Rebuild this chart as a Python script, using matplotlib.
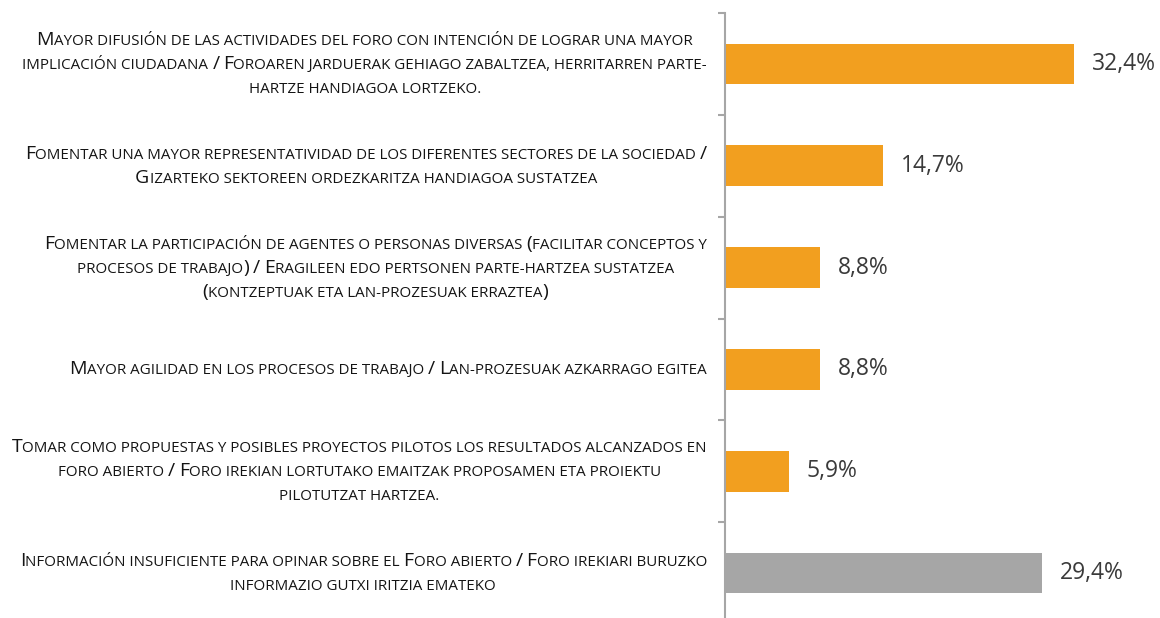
import matplotlib
matplotlib.use('Agg')
import matplotlib.pyplot as plt

W, H = 1160, 618
FONT = 'Open Sans'

# answers, top to bottom (line breaks as in the original)
labels = [
    ['Mayor difusión de las actividades del foro con intención de lograr una mayor',
     'implicación ciudadana / Foroaren jarduerak gehiago zabaltzea, herritarren parte-',
     'hartze handiagoa lortzeko.'],
    ['Fomentar una mayor representatividad de los diferentes sectores de la sociedad /',
     'Gizarteko sektoreen ordezkaritza handiagoa sustatzea'],
    ['Fomentar la participación de agentes o personas diversas (facilitar conceptos y',
     'procesos de trabajo) / Eragileen edo pertsonen parte-hartzea sustatzea',
     '(kontzeptuak eta lan-prozesuak erraztea)'],
    ['Mayor agilidad en los procesos de trabajo / Lan-prozesuak azkarrago egitea'],
    ['Tomar como propuestas y posibles proyectos pilotos los resultados alcanzados en',
     'foro abierto / Foro irekian lortutako emaitzak proposamen eta proiektu',
     'pilotutzat hartzea.'],
    ['Información insuficiente para opinar sobre el Foro abierto / Foro irekiari buruzko',
     'informazio gutxi iritzia emateko'],
]
values = [32.4, 14.7, 8.8, 8.8, 5.9, 29.4]
value_text = ['32,4%', '14,7%', '8,8%', '8,8%', '5,9%', '29,4%']
colors = ['#F29F1F'] * 5 + ['#A6A6A6']

fig = plt.figure(figsize=(W / 100, H / 100), dpi=100)
ax = fig.add_axes([725 / W, -6 / H, 435 / W, 611 / H])

y = list(range(len(values)))
bars = ax.barh(y, values, height=0.4, color=colors)
ax.set_ylim(len(values) - 0.5, -0.5)
ax.set_xlim(0, 435 / 10.77)
ax.bar_label(bars, labels=value_text, padding=13, fontsize=16.5,
             family=FONT, color='#3A3A3A')

for s in ['top', 'right', 'bottom']:
    ax.spines[s].set_visible(False)
ax.spines['left'].set_color('#A6A6A6')
ax.spines['left'].set_linewidth(1.5)
ax.set_xticks([])
ax.set_yticks([i - 0.5 for i in range(len(values) + 1)])
ax.set_yticklabels([])
ax.tick_params(axis='y', length=5, width=1.5, color='#A6A6A6')

#-----------------------------------------------------------------------------------------
# small caps labels, drawn run by run

r = fig.canvas.get_renderer()
_bar_w = {}


def text_w(s, size):
    t = fig.text(0, 0, s + '|', fontsize=size, family=FONT)
    w = t.get_window_extent(renderer=r).width
    if size not in _bar_w:
        t.set_text('|')
        _bar_w[size] = t.get_window_extent(renderer=r).width
    t.remove()
    return w - _bar_w[size]


def runs(line):
    out = []
    for ch in line:
        big = ch.isupper() or ch in '/()'
        if out and out[-1][1] == big:
            out[-1][0] += ch.upper()
        else:
            out.append([ch.upper(), big])
    return out


def line_w(line, big_sz, small_sz):
    return sum(text_w(s, big_sz if b else small_sz) for s, b in runs(line))


big_sz, small_sz = 10.8, 8.4
k = 638 / line_w(labels[3][0], big_sz, small_sz)
big_sz, small_sz = round(big_sz * k, 2), round(small_sz * k, 2)

right = 707
line_h = 24
for i, lines in enumerate(labels):
    yc = 64 + i * 101.8
    widths = [line_w(l, big_sz, small_sz) for l in lines]
    cx = right - max(widths) / 2
    n = len(lines)
    for j, (l, lw) in enumerate(zip(lines, widths)):
        base = yc + (j - (n - 1) / 2) * line_h + 5
        x = cx - lw / 2
        for s, b in runs(l):
            sz = big_sz if b else small_sz
            fig.text(x / W, (H - base) / H, s, fontsize=sz, family=FONT,
                     color='#141414', ha='left', va='baseline')
            x += text_w(s, sz)

fig.savefig('out.png', dpi=100)
